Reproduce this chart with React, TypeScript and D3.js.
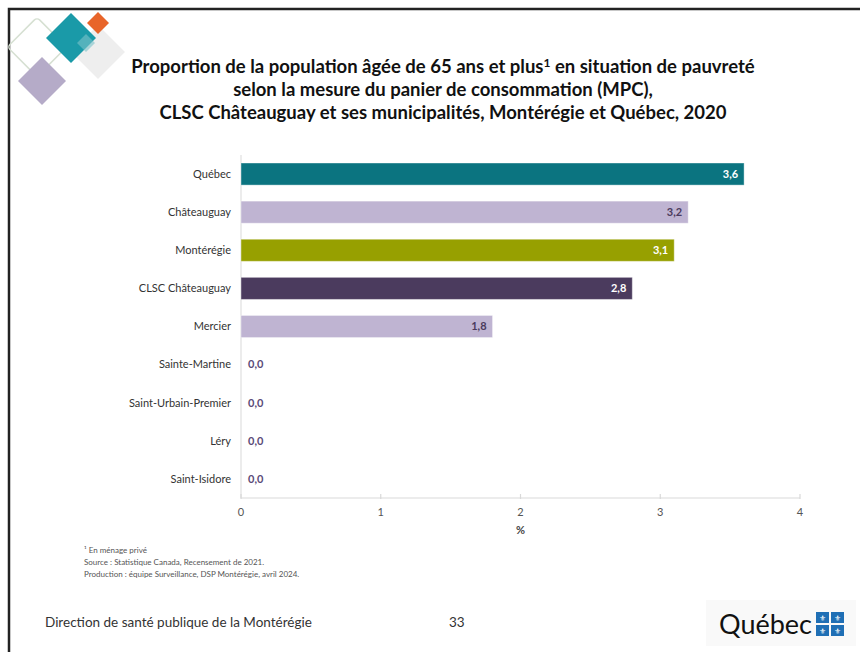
import * as d3 from "d3";

const categories = [
  "Québec",
  "Châteauguay",
  "Montérégie",
  "CLSC Châteauguay",
  "Mercier",
  "Sainte-Martine",
  "Saint-Urbain-Premier",
  "Léry",
  "Saint-Isidore",
];
const values = [3.6, 3.2, 3.1, 2.8, 1.8, 0, 0, 0, 0];
const barColors = ["#0b7480", "#bfb4d2", "#97a000", "#4b3b5e", "#bfb4d2", "#bfb4d2", "#bfb4d2", "#bfb4d2", "#bfb4d2"];
const labelColors = ["#ffffff", "#4b3b5e", "#ffffff", "#ffffff", "#4b3b5e", "#5a4a78", "#5a4a78", "#5a4a78", "#5a4a78"];
const xTicks = [0, 1, 2, 3, 4];

const titleLines = [
  "selon la mesure du panier de consommation (MPC),",
  "CLSC Châteauguay et ses municipalités, Montérégie et Québec, 2020",
];
const notes = [
  "¹ En ménage privé",
  "Source : Statistique Canada, Recensement de 2021.",
  "Production : équipe Surveillance, DSP Montérégie, avril 2024.",
];

const W = 860;
const H = 652;
const font = "Lato, 'Open Sans', sans-serif";

export default function App() {
  const margin = { left: 241, right: 60, top: 155, bottom: 154 };
  const x = d3.scaleLinear().domain([0, 4]).range([margin.left, W - margin.right]);
  const y = d3
    .scaleBand()
    .domain(categories)
    .range([margin.top, H - margin.bottom])
    .paddingInner(0.42)
    .paddingOuter(0.21);
  const fmt = (v: number) => v.toFixed(1).replace(".", ",");
  const axisY = H - margin.bottom;

  const diamond = (cx: number, cy: number, r: number) =>
    `M${cx},${cy - r}L${cx + r},${cy}L${cx},${cy + r}L${cx - r},${cy}Z`;

  return (
    <svg width={W} height={H} style={{ position: "absolute", left: 0, top: 0, background: "#fff" }}>
      {/* slide frame */}
      <path d={`M9,${H + 5}V9H${W + 5}`} fill="none" stroke="#222" strokeWidth={2.5} />

      {/* decorative diamonds */}
      <rect x={16} y={26} width={42} height={42} rx={4} fill="none" stroke="#d6e0d2" strokeWidth={1.5}
        transform="rotate(45 37 47)" />
      <path d={diamond(98, 52, 27)} fill="#ececec" opacity={0.9} />
      <path d={diamond(71, 38, 25)} fill="#1a9aa8" />
      <path d={diamond(98, 23, 11)} fill="#e8652a" />
      <path d={diamond(86, 43, 9)} fill="#7cc3c9" opacity={0.6} />
      <path d={diamond(42, 81, 24)} fill="#b5abc8" />

      {/* title */}
      <text x={443} y={73} textAnchor="middle" fontFamily={font} fontWeight="bold" fontSize={18.5} fill="#111">
        Proportion de la population âgée de 65 ans et plus
        <tspan dy={-6} fontSize={12}>1</tspan>
        <tspan dy={6}> en situation de pauvreté</tspan>
      </text>
      {titleLines.map((t, i) => (
        <text key={t} x={443} y={96 + i * 23} textAnchor="middle" fontFamily={font} fontWeight="bold"
          fontSize={18.5} fill="#111">
          {t}
        </text>
      ))}

      {/* y axis line */}
      <line x1={x(0)} x2={x(0)} y1={margin.top} y2={axisY} stroke="#d9d9d9" strokeWidth={1} />

      {/* bars */}
      {categories.map((c, i) => {
        const v = values[i];
        const yy = y(c)!;
        const bw = x(v) - x(0);
        const cy = yy + y.bandwidth() / 2;
        return (
          <g key={c}>
            <text x={231} y={cy} dy="0.35em" textAnchor="end" fontFamily={font} fontSize={11} fill="#333">
              {c}
            </text>
            {v > 0 && (
              <rect x={x(0)} y={yy} width={bw} height={y.bandwidth()} fill={barColors[i]}
                stroke="#ffffff" strokeOpacity={0.4} />
            )}
            <text
              x={v > 0 ? x(v) - 6 : x(0) + 7}
              y={cy}
              dy="0.35em"
              textAnchor={v > 0 ? "end" : "start"}
              fontFamily={font}
              fontWeight="bold"
              fontSize={11}
              fill={labelColors[i]}
            >
              {fmt(v)}
            </text>
          </g>
        );
      })}

      {/* x axis */}
      <line x1={x(0)} x2={x(4)} y1={axisY} y2={axisY} stroke="#d9d9d9" strokeWidth={1.2} />
      {xTicks.map((t) => (
        <g key={t}>
          <line x1={x(t)} x2={x(t)} y1={axisY - 4} y2={axisY + 1} stroke="#d9d9d9" strokeWidth={1.2} />
          <text x={x(t)} y={516} textAnchor="middle" fontFamily={font} fontSize={11} fill="#555">
            {t}
          </text>
        </g>
      ))}
      <text x={x(2)} y={534} textAnchor="middle" fontFamily={font} fontWeight="bold" fontSize={11} fill="#444">
        %
      </text>

      {/* notes */}
      {notes.map((n, i) => (
        <text key={n} x={84} y={553 + i * 12} fontFamily={font} fontSize={8} fill="#555">
          {n}
        </text>
      ))}

      {/* footer */}
      <text x={45} y={627} fontFamily={font} fontSize={13.5} fill="#333">
        Direction de santé publique de la Montérégie
      </text>
      <text x={449} y={627} fontFamily={font} fontSize={13.5} fill="#333">
        33
      </text>
      <rect x={706} y={600} width={150} height={46} fill="#f9f9f9" />
      <text x={719} y={634} fontFamily={font} fontSize={27} fill="#111">
        Québec
      </text>
      {[0, 1].map((r) =>
        [0, 1].map((cIdx) => (
          <g key={`${r}-${cIdx}`}>
            <rect x={816 + cIdx * 15} y={612 + r * 13} width={13} height={11} fill="#1f6fb5" />
            <text x={822.5 + cIdx * 15} y={621 + r * 13} textAnchor="middle" fontSize={8} fill="#fff">
              ⚜
            </text>
          </g>
        ))
      )}
    </svg>
  );
}
